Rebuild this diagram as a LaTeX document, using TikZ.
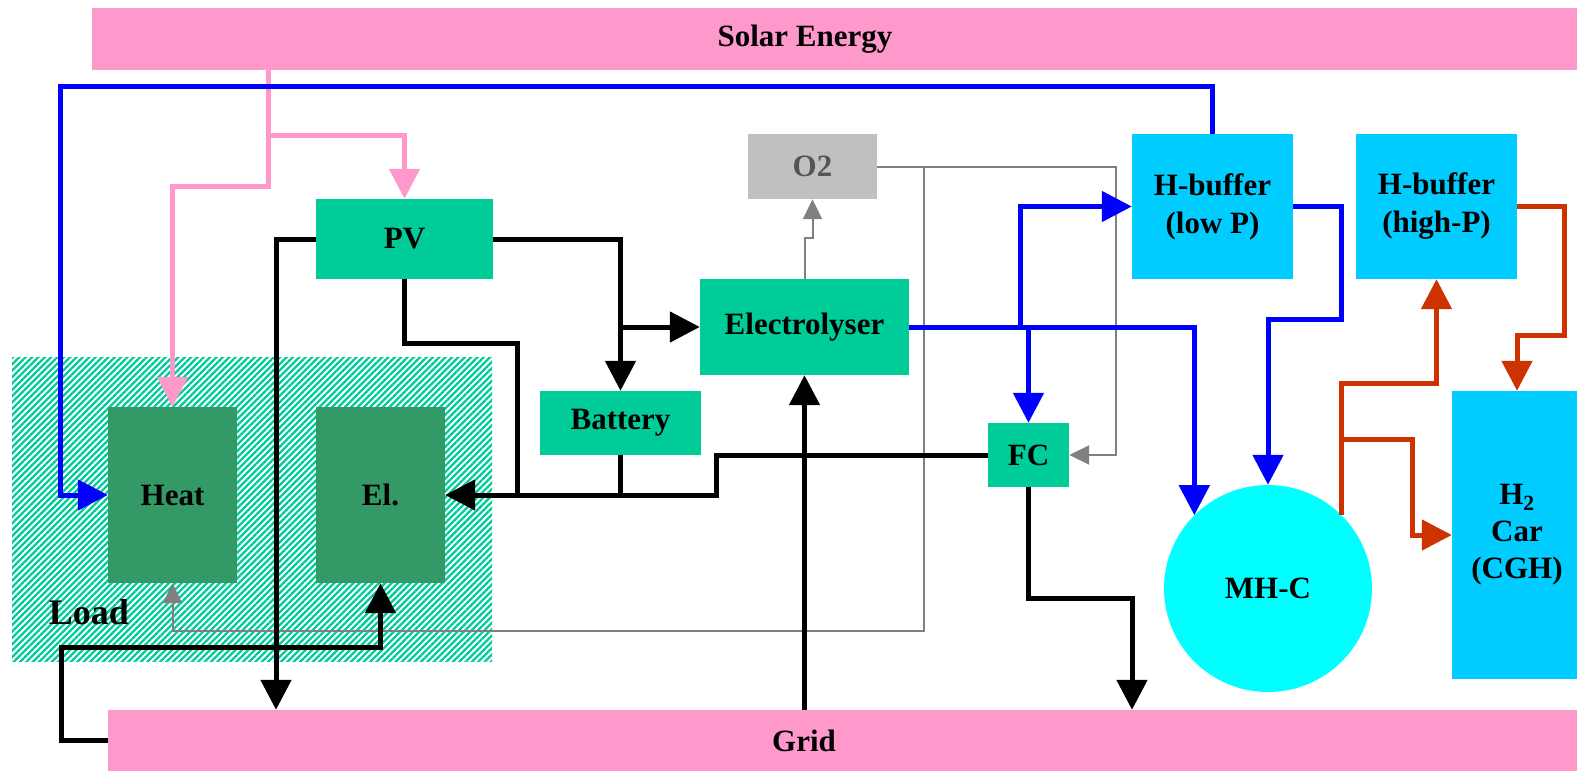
\documentclass[tikz,border=0pt]{standalone}
\usepackage{fontspec}
\setmainfont{Liberation Serif}
\usetikzlibrary{arrows.meta,patterns.meta,shapes.geometric}
\definecolor{spink}{HTML}{FF99CC}
\definecolor{pvgreen}{HTML}{00CC99}
\definecolor{dgreen}{HTML}{339966}
\definecolor{sblue}{HTML}{0000FF}
\definecolor{sred}{HTML}{CC3300}
\definecolor{sgraybox}{HTML}{C0C0C0}
\definecolor{sgrayln}{HTML}{808080}
\definecolor{sgraytxt}{HTML}{555555}
\definecolor{hbuf}{HTML}{00CCFF}
\definecolor{mhcyan}{HTML}{00FFFF}
\newcommand\mylbl{\fontsize{31}{38}\selectfont\bfseries}
\tikzset{
  blk/.style={rectangle, inner sep=0pt, font=\mylbl, align=center},
  pinkln/.style={draw=spink, line width=5pt},
  blackln/.style={draw=black, line width=5pt},
  blueln/.style={draw=sblue, line width=5pt},
  redln/.style={draw=sred, line width=5pt},
  grayln/.style={draw=sgrayln, line width=2pt},
  bigtip/.style={-{Triangle[length=30pt,width=30pt]}},
  smalltip/.style={-{Triangle[length=20pt,width=19pt]}},
}
\begin{document}
\begin{tikzpicture}[x=1pt,y=-1pt]
\useasboundingbox (0,0) rectangle (1577,771);
\fill[white] (0,0) rectangle (1577,771);
% load area
\path[pattern={Lines[angle=45,distance=4.5pt,line width=2.3pt]}, pattern color=pvgreen] (12,357) rectangle (492,661);
\node[font=\fontsize{36}{40}\selectfont\bfseries] (loadlbl) at (89,612) {Load};

% bars
\node[blk, fill=spink, minimum width=1485pt, minimum height=62pt] (solar) at (834.5,39) {};
\node[font=\mylbl] (solartxt) at (805,39) {Solar Energy};
\node[blk, fill=spink, minimum width=1469pt, minimum height=61pt] (grid) at (842.5,740.5) {};
\node[font=\mylbl] (gridtxt) at (804,740.5) {Grid};

% boxes
\node[blk, fill=dgreen, minimum width=129pt, minimum height=176pt] (heat) at (172.5,495) {Heat};
\node[blk, fill=dgreen, minimum width=129pt, minimum height=176pt] (el) at (380.5,495) {El.};
\node[blk, fill=pvgreen, minimum width=177pt, minimum height=80pt] (pv) at (404.5,239) {PV};
\node[blk, fill=pvgreen, minimum width=161pt, minimum height=64pt] (batt) at (620.5,423) {Battery};
\node[blk, fill=pvgreen, minimum width=209pt, minimum height=96pt] (elec) at (804.5,327) {Electrolyser};
\node[blk, fill=sgraybox, text=sgraytxt, minimum width=129pt, minimum height=65pt] (o2) at (812.5,166.5) {O2};
\node[blk, fill=pvgreen, minimum width=81pt, minimum height=64pt] (fc) at (1028.5,455) {FC};
\node[blk, fill=hbuf, minimum width=161pt, minimum height=145pt] (hbl) at (1212.5,206.5) {H-buffer\\(low P)};
\node[blk, fill=hbuf, minimum width=161pt, minimum height=145pt] (hbh) at (1436.5,206.5) {H-buffer\\(high-P)};
\node[blk, fill=hbuf, minimum width=130pt, minimum height=288pt, font=\fontsize{31}{37}\selectfont\bfseries] (car) at (1517,535) {H\textsubscript{2}\\Car\\(CGH)};
\node[ellipse, inner sep=0pt, fill=mhcyan, minimum width=208pt, minimum height=207pt, font=\mylbl] (mhc) at (1268,588.5) {MH-C};

% gray connectors
\draw[grayln, smalltip] (elec.north) -- (elec.north |- 0,238) -| (o2.south);
\draw[grayln, smalltip] (o2.east) -| (1116,0 |- fc.east) -- (fc.east);
\draw[grayln, smalltip] (924,0 |- o2.east) -- (924,631) -| (heat.south);

% pink connectors
\draw[pinkln, bigtip] (268,0 |- solar.south) |- (pv.north |- 0,135) -- (pv.north);
\draw[pinkln, bigtip] (268,0 |- solar.south) -- (268,186) -| (heat.north);

% black connectors
\draw[blackln, bigtip] (pv.west) -| (276,0 |- grid.north);
\draw[blackln, bigtip] (pv.east) -| (batt.north);
\draw[blackln, bigtip] (batt.north |- elec.west) -- (elec.west);
\draw[blackln] (pv.south) |- (517,343) -- (517,0 |- el.east);
\draw[blackln] (batt.south) -- (batt.south |- el.east);
\draw[blackln, bigtip] (fc.west) -| (716,0 |- el.east) -- (el.east);
\draw[blackln, bigtip] (elec.south |- grid.north) -- (elec.south);
\draw[blackln, bigtip] (grid.west) -| (61,647) -| (el.south);
\draw[blackln, bigtip] (fc.south) |- (1132,598) -- (1132,0 |- grid.north);

% blue connectors
\draw[blueln, bigtip] (hbl.north) |- (60,86) |- (heat.west);
\draw[blueln, bigtip] (elec.east) -| (mhc.north west);
\draw[blueln, bigtip] (1020,0 |- elec.east) |- (hbl.west);
\draw[blueln, bigtip] (fc.north |- elec.east) -- (fc.north);
\draw[blueln, bigtip] (hbl.east) -| (1341,319) -| (mhc.north);

% red connectors
\draw[redln, bigtip] (mhc.north east) -- (mhc.north east |- 0,383) -| (hbh.south);
\draw[redln, bigtip] (mhc.north east |- 0,439) -| (1412,0 |- car.west) -- (car.west);
\draw[redln, bigtip] (hbh.east) -| (1564,335) -| (car.north);
\end{tikzpicture}
\end{document}
